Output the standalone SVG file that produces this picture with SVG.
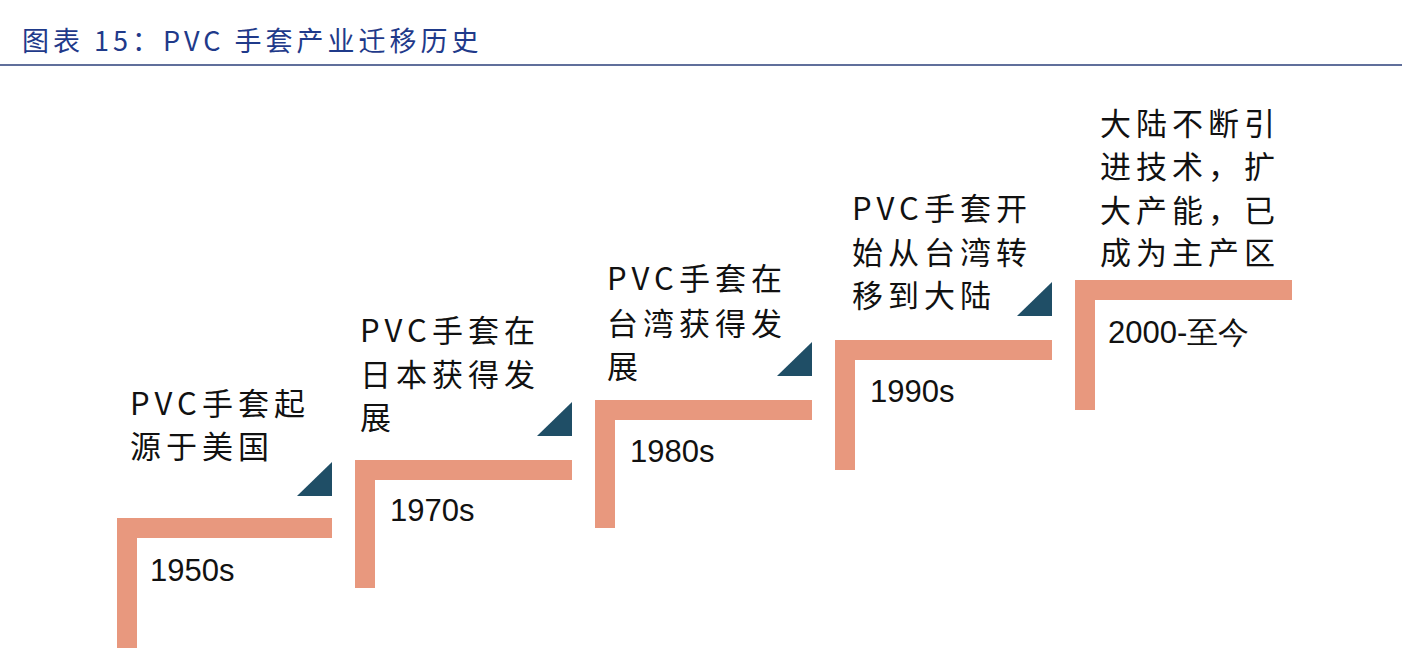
<svg xmlns="http://www.w3.org/2000/svg" width="1402" height="652" viewBox="0 0 1402 652">
<style>
.bar{fill:#E8987E}
.tri{fill:#1F4E66}
.lbl{font-family:"Noto Sans CJK SC","Noto Sans",sans-serif;font-size:31px;letter-spacing:5px;fill:#111}
.yr{font-family:"Liberation Sans",Arial,sans-serif;font-size:31px;fill:#111}
.title{font-family:"Noto Sans CJK SC",sans-serif;font-size:27px;letter-spacing:4px;fill:#1F3A8A}
</style>
<rect width="1402" height="652" fill="#fff"/>
<text class="title" x="22" y="51">图表 15：PVC 手套产业迁移历史</text>
<line x1="0" y1="65" x2="1402" y2="65" stroke="#2B3F7A" stroke-width="1.5"/>
<g id="step1">
<path class="bar" d="M117 518H332V538H137V648H117Z"/>
<polygon class="tri" points="332,462 332,496 297,496"/>
<text class="yr" x="150" y="581">1950s</text>
<text class="lbl" x="130" y="415">PVC手套起</text><text class="lbl" x="130" y="458">源于美国</text>
</g>
<g id="step2">
<path class="bar" d="M355 460H572V480H375V588H355Z"/>
<polygon class="tri" points="572,402 572,436 537,436"/>
<text class="yr" x="390" y="521">1970s</text>
<text class="lbl" x="360" y="342">PVC手套在</text><text class="lbl" x="360" y="386">日本获得发</text><text class="lbl" x="360" y="429">展</text>
</g>
<g id="step3">
<path class="bar" d="M595 400H812V420H615V528H595Z"/>
<polygon class="tri" points="812,342 812,376 777,376"/>
<text class="yr" x="630" y="462">1980s</text>
<text class="lbl" x="607" y="290">PVC手套在</text><text class="lbl" x="607" y="335">台湾获得发</text><text class="lbl" x="607" y="378">展</text>
</g>
<g id="step4">
<path class="bar" d="M835 340H1052V360H855V470H835Z"/>
<polygon class="tri" points="1052,282 1052,316 1017,316"/>
<text class="yr" x="870" y="402">1990s</text>
<text class="lbl" x="852" y="220">PVC手套开</text><text class="lbl" x="852" y="264">始从台湾转</text><text class="lbl" x="852" y="307">移到大陆</text>
</g>
<g id="step5">
<path class="bar" d="M1075 280H1292V300H1095V410H1075Z"/>
<text class="yr" x="1108" y="343">2000-至今</text>
<text class="lbl" x="1100" y="135">大陆不断引</text><text class="lbl" x="1100" y="178">进技术，扩</text><text class="lbl" x="1100" y="222">大产能，已</text><text class="lbl" x="1100" y="264">成为主产区</text>
</g>
<g id="connectors"></g>
</svg>
